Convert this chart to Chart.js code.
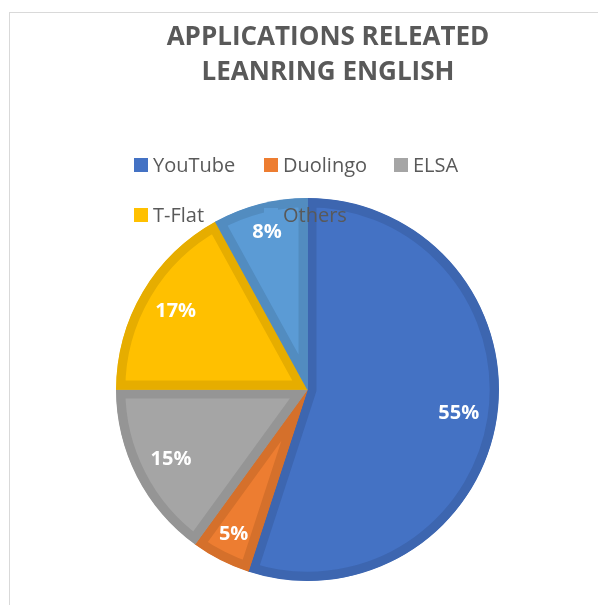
<!DOCTYPE html>
<html>
<head>
<meta charset="utf-8">
<script src="https://cdn.jsdelivr.net/npm/chart.js@4.4.1/dist/chart.umd.min.js"></script>
<style>
html, body { margin: 0; padding: 0; background: #fff; }
#wrap { position: relative; width: 598px; height: 605px; overflow: hidden; }
#frame { position: absolute; left: 9px; top: 12px; width: 620px; height: 620px; border: 1px solid #d9d9d9; }
canvas { position: absolute; left: 0; top: 0; }
</style>
</head>
<body>
<div id="wrap">
  <div id="frame"></div>
  <canvas id="pieChart" width="598" height="605"></canvas>
</div>
<script>
// chart data
const titleLines = ['APPLICATIONS RELEATED', 'LEANRING ENGLISH'];
const apps = ['YouTube', 'Duolingo', 'ELSA', 'T-Flat', 'Others'];
const shares = [55, 5, 15, 17, 8];
const fillColors = ['#4472C4', '#ED7D31', '#A5A5A5', '#FFC000', '#5B9BD5'];
const edgeColors = ['#3D66B0', '#D5702B', '#959595', '#E6AD00', '#528CC0'];

const textGrey = '#595959';
const fontFamily = '"Open Sans", "DejaVu Sans", sans-serif';

// Title drawn by hand so it can sit off the pie's centre like the original
const titlePlugin = {
    id: 'excelTitle',
    beforeDraw(chart) {
        const ctx = chart.ctx;
        ctx.save();
        ctx.fillStyle = textGrey;
        ctx.font = 'bold 26px ' + fontFamily;
        ctx.textAlign = 'center';
        ctx.textBaseline = 'alphabetic';
        titleLines.forEach((line, i) => {
            ctx.fillText(line, 328, 45 + i * 35);
        });
        ctx.restore();
    }
};

// Legend in a 3 column grid, painted over the pie (the "Others" entry overlaps it)
const legendPlugin = {
    id: 'gridLegend',
    afterDatasetsDraw(chart) {
        const ctx = chart.ctx;
        const labels = chart.data.labels;
        const colors = chart.data.datasets[0].backgroundColor;
        ctx.save();
        ctx.font = '20px ' + fontFamily;
        ctx.textBaseline = 'alphabetic';
        ctx.textAlign = 'left';
        labels.forEach((lbl, i) => {
            const col = i % 3;
            const row = Math.floor(i / 3);
            const x = 134 + col * 130;
            const y = 172 + row * 50;
            ctx.fillStyle = colors[i];
            ctx.fillRect(x, y - 14, 14, 14);
            ctx.fillStyle = textGrey;
            ctx.fillText(lbl, x + 19, y);
        });
        ctx.restore();
    }
};

// Percentage labels inside each slice
const sliceLabels = {
    id: 'sliceLabels',
    afterDatasetsDraw(chart) {
        const ctx = chart.ctx;
        const meta = chart.getDatasetMeta(0);
        const values = chart.data.datasets[0].data;
        const total = values.reduce((a, b) => a + b, 0);
        ctx.save();
        ctx.fillStyle = '#ffffff';
        ctx.font = 'bold 20px ' + fontFamily;
        ctx.textAlign = 'center';
        ctx.textBaseline = 'middle';
        meta.data.forEach((arc, i) => {
            const p = arc.getProps(['x', 'y', 'startAngle', 'endAngle', 'outerRadius'], true);
            const mid = (p.startAngle + p.endAngle) / 2;
            const pct = Math.round(values[i] / total * 100);
            const r = p.outerRadius * (pct < 10 ? 0.85 : 0.8);
            ctx.fillText(pct + '%', p.x + Math.cos(mid) * r, p.y + Math.sin(mid) * r);
        });
        ctx.restore();
    }
};

const pieCtx = document.getElementById('pieChart').getContext('2d');
const pieChart = new Chart(pieCtx, {
    type: 'pie',
    data: {
        labels: apps,
        datasets: [{
            data: shares,
            backgroundColor: fillColors,
            borderColor: edgeColors,
            borderWidth: 9,
            borderAlign: 'inner',
            hoverBorderWidth: 9
        }]
    },
    options: {
        responsive: false,
        animation: false,
        events: [],
        layout: {
            padding: { left: 116, right: 99, top: 198, bottom: 24 }
        },
        plugins: {
            legend: { display: false },
            title: { display: false },
            tooltip: { enabled: false }
        }
    },
    plugins: [titlePlugin, legendPlugin, sliceLabels]
});
</script>
</body>
</html>
